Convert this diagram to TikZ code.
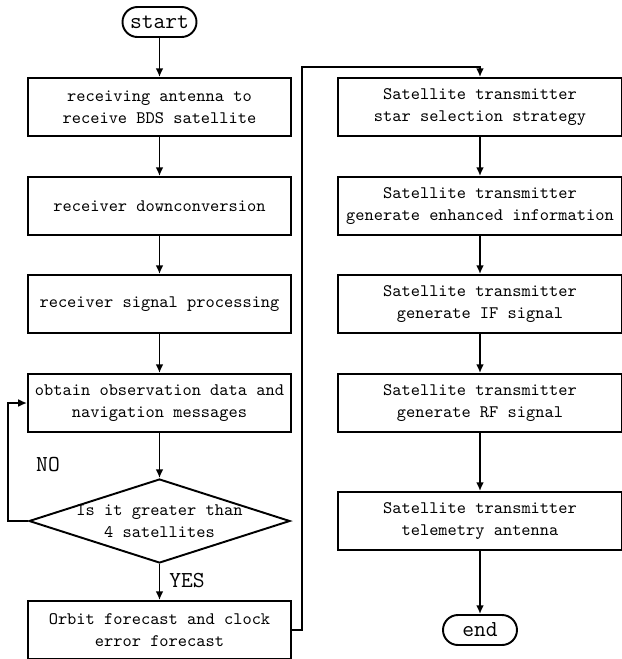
\documentclass[tikz,border=0pt]{standalone}
\usetikzlibrary{shapes.geometric,arrows.meta}
\begin{document}
\begin{tikzpicture}[>={Latex[length=5pt,width=4.5pt]}, line width=1.1pt,
  box/.style={draw, minimum width=5.26cm, minimum height=1.16cm, align=center, inner sep=1pt,
    font=\fontsize{10}{12.5}\selectfont\ttfamily},
  rbox/.style={box, minimum width=5.68cm},
  term/.style={draw, rounded corners=0.3cm, minimum width=1.48cm, minimum height=0.6cm, inner sep=0pt,
    font=\fontsize{13}{15}\selectfont\ttfamily},
  decision/.style={draw, diamond, minimum width=5.22cm, minimum height=1.68cm, inner sep=0pt},
  lbl/.style={font=\fontsize{13}{15}\selectfont\ttfamily}]
\useasboundingbox (0,0) rectangle (12.44,-13.18);
% left column
\node[term](start) at (3.19,-0.44) {start};
\node[box](b1) at (3.19,-2.14) {receiving antenna to\\receive BDS satellite};
\node[box](b2) at (3.19,-4.12) {receiver downconversion};
\node[box](b3) at (3.19,-6.08) {receiver signal processing};
\node[box](b4) at (3.19,-8.06) {obtain observation data and\\navigation messages};
\node[decision, label={[align=center, font=\fontsize{10}{12.5}\selectfont\ttfamily]center:{Is it greater than\\4 satellites}}](dia) at (3.19,-10.42) {};
\node[box](b5) at (3.19,-12.6) {Orbit forecast and clock\\error forecast};
% right column
\node[rbox](r1) at (9.6,-2.14) {Satellite transmitter\\star selection strategy};
\node[rbox](r2) at (9.6,-4.12) {Satellite transmitter\\generate enhanced information};
\node[rbox](r3) at (9.6,-6.08) {Satellite transmitter\\generate IF signal};
\node[rbox](r4) at (9.6,-8.06) {Satellite transmitter\\generate RF signal};
\node[rbox](r5) at (9.6,-10.42) {Satellite transmitter\\telemetry antenna};
\node[term](end) at (9.6,-12.6) {end};
\node[lbl](no) at (0.96,-9.3) {NO};
\node[lbl](yes) at (3.74,-11.62) {YES};
\coordinate (loop) at (0.16,-9.3);
\coordinate (turn) at (6.04,-1.34);
% connectors
\draw[->](start)--(b1);
\draw[->](b1)--(b2);
\draw[->](b2)--(b3);
\draw[->](b3)--(b4);
\draw[->](b4)--(dia);
\draw[->](dia)--(b5);
\draw[->](dia.west)-|(loop)|-(b4.west);
\draw[->](b5.east)-|(turn)-|(r1.north);
\draw[->](r1)--(r2);
\draw[->](r2)--(r3);
\draw[->](r3)--(r4);
\draw[->](r4)--(r5);
\draw[->](r5)--(end);
\end{tikzpicture}
\end{document}
